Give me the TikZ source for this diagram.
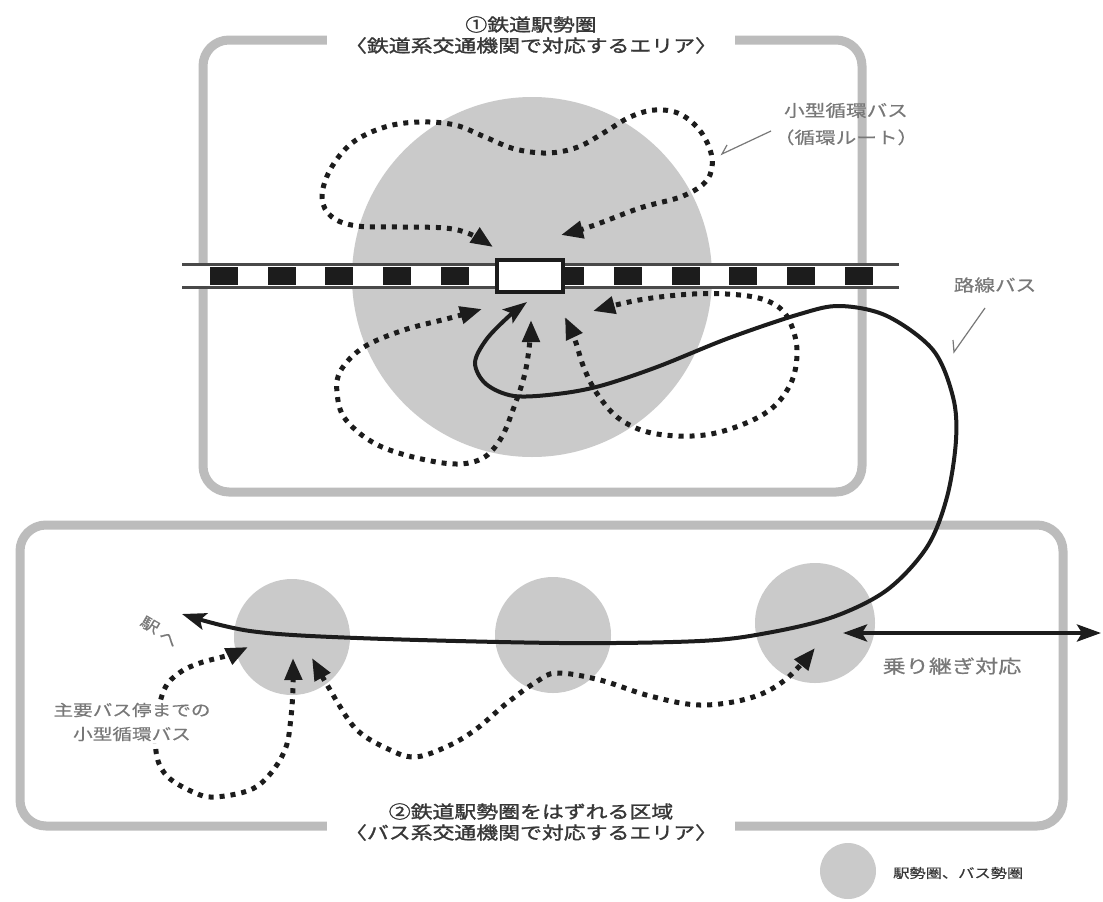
\documentclass[tikz,border=0pt]{standalone}
\usepackage{fontspec}
\usetikzlibrary{arrows.meta}
\newfontfamily\jp[FakeStretch=1.25,FakeBold=0.5]{Noto Sans CJK JP}
\newfontfamily\jpb[FakeStretch=1.25,FakeBold=1.5]{Noto Sans CJK JP}
\definecolor{areagray}{RGB}{202,202,202}
\definecolor{boxgray}{RGB}{188,188,188}
\definecolor{ink}{RGB}{28,28,28}
\definecolor{txtdark}{RGB}{55,55,55}
\definecolor{txtlight}{RGB}{120,120,120}
\begin{document}
\begin{tikzpicture}[x=1pt,y=-1pt,
  areabox/.style={draw=boxgray,line width=9pt,rounded corners=26pt},
  zone/.style={fill=areagray},
  loopbus/.style={draw=ink,line width=5pt,dash pattern=on 5pt off 6pt,
    {Triangle[length=22pt,width=17pt]}-{Triangle[length=22pt,width=17pt]}},
  busroute/.style={draw=ink,line width=4pt,
    {Stealth[length=24pt,width=17pt,inset=5pt]}-{Stealth[length=24pt,width=17pt,inset=5pt]}},
  leader/.style={draw=txtlight,line width=1.2pt},
  title/.style={fill=white,align=center,text=txtdark,font=\jpb\fontsize{17.5}{21}\selectfont,inner xsep=18pt,inner ysep=1pt},
  label/.style={align=center,text=txtlight,font=\jp\fontsize{16.5}{27}\selectfont,inner sep=0pt}
]
\useasboundingbox (0,0) rectangle (1103,902);
\fill[white] (0,0) rectangle (1103,902);

% area boxes
\draw[areabox] (203,40) rectangle (862,492);
\draw[areabox] (20,525) rectangle (1063,826);

% catchment circles
\fill[zone] (532,277) circle[radius=180pt];
\fill[zone] (292,637) circle[radius=58pt];
\fill[zone] (553,635) circle[radius=58pt];
\fill[zone] (815,623) circle[radius=60pt];
\fill[zone] (848,871) circle[radius=28pt];

% railway
\fill[white] (182,264) rectangle (899,287);
\foreach \i in {0,...,11} \fill[ink] (210+57.7*\i,266.5) rectangle ++(28,18);
\draw[ink!80,line width=3pt] (182,264) -- (899,264) (182,287) -- (899,287);
\node[draw=ink,line width=4pt,fill=white,minimum width=66pt,minimum height=32pt,inner sep=0pt] (station) at (530,276) {};

% circular routes around the station
\draw[loopbus] plot[smooth,tension=0.6] coordinates {(561,235) (592,226) (640,208) (683,196) (707,180) (712,158) (701,132) (680,114) (655,110) (630,117) (605,132) (578,147) (548,153) (515,149) (485,137) (455,125) (420,122) (385,127) (352,143) (330,170) (322,198) (332,217) (357,226) (400,227) (445,228) (470,234) (493,247)};
\draw[loopbus] plot[smooth,tension=0.6] coordinates {(482,309) (450,318) (404,330) (364,347) (341,370) (337,392) (346,420) (382,447) (443,463) (479,460) (500,440) (514,407) (525,373) (530,340) (531,320)};
\draw[loopbus] plot[smooth,tension=0.6] coordinates {(565,317) (575,340) (584,368) (598,395) (621,420) (657,434) (711,434) (764,414) (790,385) (797,350) (788,318) (770,302) (740,295) (693,294) (639,300) (593,311)};

% trunk bus route
\draw[busroute] plot[smooth,tension=0.55] coordinates {(527,302) (507,318) (486,340) (475,363) (486,384) (514,396) (557,394) (600,386) (657,367) (729,338) (800,314) (840,306) (887,316) (933,350) (953,397) (956,440) (947,497) (927,547) (887,590) (833,617) (767,633) (700,641) (560,643) (357,638) (250,631) (182,614)};
\draw[busroute] (843,633) -- (1101,633);

% feeder routes in area 2
\draw[loopbus] plot[smooth,tension=0.6] coordinates {(293,658) (293,687) (291,717) (286,747) (271,773) (250,790) (214,797) (193,792) (168,777) (157,757) (156,725) (164,690) (179,673) (200,663) (229,655) (248,647)};
\draw[loopbus] plot[smooth,tension=0.6] coordinates {(312,658) (336,700) (357,730) (386,748) (414,757) (446,747) (475,730) (507,703) (536,682) (557,673) (600,680) (650,696) (700,705) (750,698) (785,680) (815,648)};

% texts
\node[title] (t1) at (531,35) {①鉄道駅勢圏\\〈鉄道系交通機関で対応するエリア〉};
\node[title] (t2) at (531,822) {②鉄道駅勢圏をはずれる区域\\〈バス系交通機関で対応するエリア〉};
\node[label] (l1) at (846,124) {小型循環バス\\（循環ルート）};
\draw[leader] (771,131) -- (722,154) -- (727,145);
\node[label] (l2) at (995,285) {路線バス};
\draw[leader] (985,308) -- (954,352) -- (953,340);
\node[label,font=\jp\fontsize{18.5}{22}\selectfont] (l3) at (952,666) {乗り継ぎ対応};
\node[label,fill=white,inner sep=2pt,font=\jp\fontsize{15.7}{24}\selectfont] (l4) at (132,722) {主要バス停までの\\小型循環バス};
\node[label,rotate=-30,font=\jp\fontsize{15}{17}\selectfont] (l5a) at (150,625) {駅};
\node[label,rotate=-30,font=\jp\fontsize{15}{17}\selectfont] (l5b) at (168,639) {へ};
\node[label,anchor=west,text=txtdark,font=\jp\fontsize{13}{15}\selectfont] (lg) at (893,873) {駅勢圏、バス勢圏};
\end{tikzpicture}
\end{document}
